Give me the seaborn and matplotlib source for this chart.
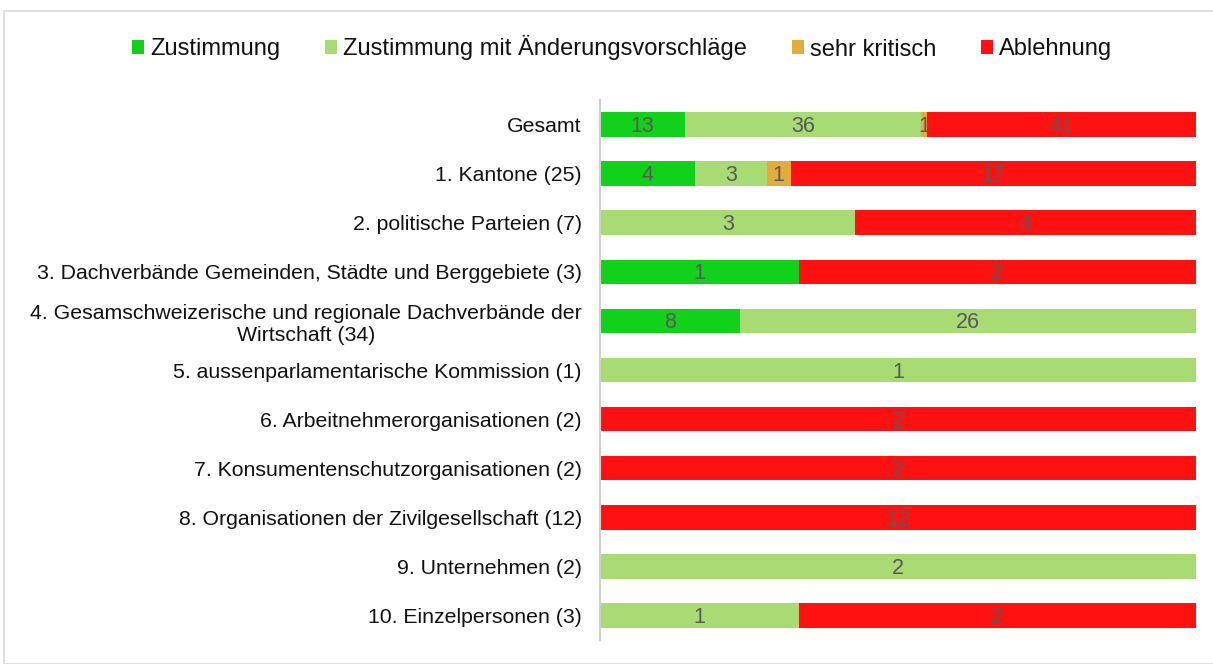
import matplotlib
matplotlib.use("Agg")
import matplotlib.pyplot as plt
import seaborn as sns
import numpy as np
import pandas as pd
from matplotlib.patches import Rectangle, Patch

categories = [
    "Gesamt",
    "1. Kantone (25)",
    "2. politische Parteien (7)",
    "3. Dachverbände Gemeinden, Städte und Berggebiete (3)",
    "4. Gesamschweizerische und regionale Dachverbände der\nWirtschaft (34)",
    "5. aussenparlamentarische Kommission (1)",
    "6. Arbeitnehmerorganisationen (2)",
    "7. Konsumentenschutzorganisationen (2)",
    "8. Organisationen der Zivilgesellschaft (12)",
    "9. Unternehmen (2)",
    "10. Einzelpersonen (3)",
]
series_names = ["Zustimmung", "Zustimmung mit Änderungsvorschläge", "sehr kritisch", "Ablehnung"]
zustimmung = [13, 4, 0, 1, 8, 0, 0, 0, 0, 0, 0]
zustimmung_aend = [36, 3, 3, 0, 26, 1, 0, 0, 0, 2, 1]
sehr_kritisch = [1, 1, 0, 0, 0, 0, 0, 0, 0, 0, 0]
ablehnung = [41, 17, 4, 2, 0, 0, 2, 2, 12, 0, 2]
colors = ["#12D11B", "#A9DB75", "#E0AC3B", "#FF1111"]

sns.set_theme(style="white")
plt.rcParams["font.family"] = ["Liberation Sans", "DejaVu Sans"]

vals = np.array([zustimmung, zustimmung_aend, sehr_kritisch, ablehnung], dtype=float)
totals = vals.sum(axis=0)
pct = vals / totals * 100
cum = np.cumsum(pct, axis=0)

fig = plt.figure(figsize=(12.13, 6.64), dpi=100)
ax = fig.add_axes([600 / 1213, 1 - 640 / 664, 596 / 1213, 540 / 664])

df = pd.DataFrame({"cat": categories})
for i in range(3, -1, -1):
    df["v"] = cum[i]
    sns.barplot(data=df, y="cat", x="v", color=colors[i], orient="h",
                width=0.5, ax=ax, saturation=1, linewidth=0)

for i in range(4):
    for j in range(len(categories)):
        if vals[i, j] > 0:
            ax.annotate(f"{int(vals[i, j])}", xy=(cum[i, j] - pct[i, j] / 2, j),
                        xytext=(0, -5.4), textcoords="offset points",
                        ha="center", va="baseline", fontsize=15.5, color="#595959")

ax.set_xlim(0, 100)
ax.set_ylim(10.5, -0.5)
ax.set_xlabel("")
ax.set_ylabel("")
ax.set_xticks([])
for s in ["top", "right", "bottom"]:
    ax.spines[s].set_visible(False)
ax.spines["left"].set_color("#D0D0D0")
ax.spines["left"].set_linewidth(1.5)
ax.tick_params(axis="y", length=0, pad=13, labelsize=15.3, labelcolor="#111111")
for lbl in ax.get_yticklabels():
    lbl.set_multialignment("center")

handles = [Patch(facecolor=c, edgecolor="none") for c in colors]
fig.legend(handles, series_names, loc="center", bbox_to_anchor=(622 / 1213, 1 - 48 / 664),
           ncol=4, frameon=False, fontsize=17, handlelength=0.51, handleheight=0.51,
           handletextpad=0.25, columnspacing=1.9, labelcolor="#111111")

fig.patches.append(Rectangle((4 / 1213, 0), 1.2, 1 - 11 / 664, transform=fig.transFigure,
                             fill=False, edgecolor="#D9D9D9", linewidth=1.2))

fig.savefig("out.png", dpi=100)
